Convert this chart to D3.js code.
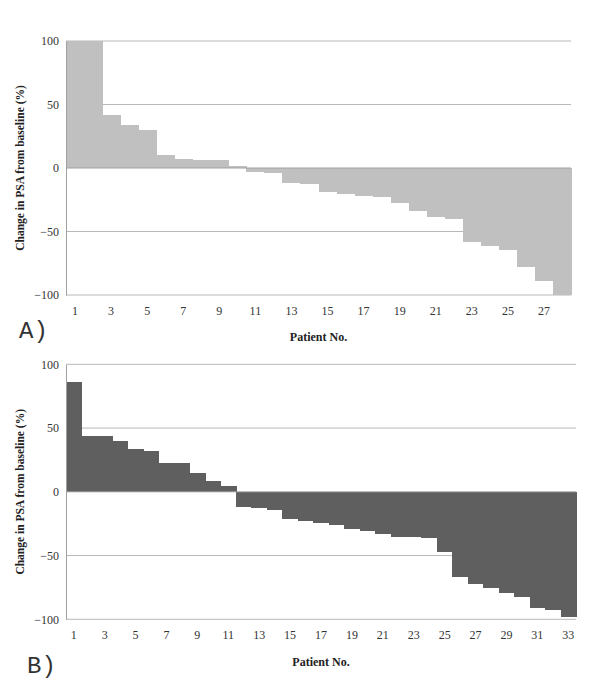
<!DOCTYPE html>
<html><head><meta charset="utf-8">
<script src="https://cdn.jsdelivr.net/npm/d3@7"></script>
<style>
body{margin:0;background:#fff}svg{display:block}
.serif{font-family:"Liberation Serif","DejaVu Serif","Times New Roman",serif}
.mono{font-family:"Liberation Mono","DejaVu Sans Mono","Courier New",monospace}
</style>
</head><body>
<svg id="chart" width="600" height="692"></svg>
<script>
const patientsA = [1,2,3,4,5,6,7,8,9,10,11,12,13,14,15,16,17,18,19,20,21,22,23,24,25,26,27,28];
const valuesA = [100,100,41.5,33.9,29.8,10.2,7.3,6.3,6.3,1.8,-3.1,-4.2,-11.5,-12.5,-18.6,-20.4,-22.2,-23,-27.4,-34,-38.7,-40,-58.3,-61.6,-64.8,-78.3,-88.8,-100];
const xTicksA = [1,3,5,7,9,11,13,15,17,19,21,23,25,27];

const patientsB = [1,2,3,4,5,6,7,8,9,10,11,12,13,14,15,16,17,18,19,20,21,22,23,24,25,26,27,28,29,30,31,32,33];
const valuesB = [86.3,43.7,43.7,39.5,33.2,31.7,22.8,22.2,14.4,8.1,4.2,-11.8,-12.5,-14.1,-21.3,-23,-24.2,-25.9,-29.3,-30.8,-33.2,-35.3,-35.8,-36.6,-47.5,-66.7,-72.6,-75.8,-79.2,-82.8,-91,-92.7,-98.5];
const xTicksB = [1,3,5,7,9,11,13,15,17,19,21,23,25,27,29,31,33];

const yTicks = [-100,-50,0,50,100];
const yTitle = "Change in PSA from baseline (%)";
const xTitle = "Patient No.";

const svg = d3.select("#chart");

function panel(cfg){
  const g = svg.append("g");
  const x = d3.scaleBand().domain(cfg.patients).range([cfg.x0, cfg.x1]).padding(0);
  const y = d3.scaleLinear().domain([-100,100]).range([cfg.y0, cfg.y1]);

  // gridlines
  g.append("g").selectAll("line").data(yTicks.filter(t=>t!==0)).join("line")
    .attr("x1", cfg.x0).attr("x2", cfg.x1)
    .attr("y1", d=>y(d)).attr("y2", d=>y(d))
    .attr("stroke", "#b8b8b8").attr("stroke-width", 1);

  // bars
  g.append("g").attr("shape-rendering", "crispEdges").selectAll("rect").data(cfg.values).join("rect")
    .attr("x", (d,i)=>x(cfg.patients[i]))
    .attr("width", x.bandwidth()+0.6)
    .attr("y", d=>y(Math.max(0,d)))
    .attr("height", d=>Math.abs(y(d)-y(0)))
    .attr("fill", cfg.color);

  // zero line
  g.append("line").attr("x1", cfg.x0).attr("x2", cfg.x1)
    .attr("y1", y(0)).attr("y2", y(0)).attr("stroke", "#a0a0a0").attr("stroke-width", 1);

  // y axis
  const ya = g.append("g").attr("transform", `translate(${cfg.x0},0)`)
    .call(d3.axisLeft(y).tickValues(yTicks).tickSize(0).tickPadding(7));
  ya.attr("font-family", null);
  ya.select(".domain").attr("stroke", "#a0a0a0");
  ya.selectAll("text").attr("class", "serif").attr("font-size", 12).attr("fill", "#333");

  // x axis labels
  const xa = g.append("g").attr("transform", `translate(0,${cfg.y0})`)
    .call(d3.axisBottom(x).tickValues(cfg.xTicks).tickSize(0).tickPadding(11));
  xa.attr("font-family", null);
  xa.select(".domain").remove();
  xa.selectAll("text").attr("class", "serif").attr("font-size", 12).attr("fill", "#333");

  // titles
  g.append("text").attr("class", "serif")
    .attr("transform", `translate(24,${(cfg.y0+cfg.y1)/2}) rotate(-90)`)
    .attr("text-anchor", "middle").attr("font-weight", "bold")
    .attr("font-size", 11.5).attr("fill", "#222").text(yTitle);
  g.append("text").attr("class", "serif").attr("x", (cfg.x0+cfg.x1)/2).attr("y", cfg.xTitleY)
    .attr("text-anchor", "middle").attr("font-weight", "bold")
    .attr("font-size", 12).attr("fill", "#222").text(xTitle);
  g.append("text").attr("class", "mono").attr("x", cfg.labX).attr("y", cfg.labY)
    .attr("font-size", 24).attr("fill", "#333").text(cfg.label);
}

panel({patients: patientsA, values: valuesA, xTicks: xTicksA, color: "#c0c0c0",
  x0: 66, x1: 571, y0: 295, y1: 41, xTitleY: 341, label: "A)", labX: 19, labY: 338});
panel({patients: patientsB, values: valuesB, xTicks: xTicksB, color: "#5f5f5f",
  x0: 66, x1: 576, y0: 619.3, y1: 364.3, xTitleY: 666, label: "B)", labX: 27, labY: 673});
</script>
</body></html>
